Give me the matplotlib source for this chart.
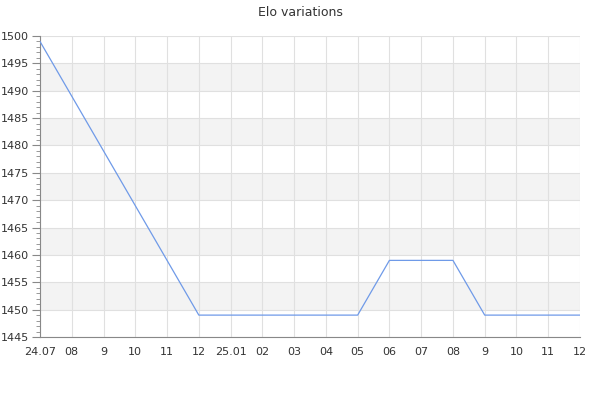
import matplotlib
matplotlib.use('Agg')
import matplotlib.pyplot as plt
from matplotlib.ticker import MultipleLocator

labels = ['24.07', '08', '9', '10', '11', '12', '25.01', '02', '03', '04',
          '05', '06', '07', '08', '9', '10', '11', '12']
elo = [1499, 1489, 1479, 1469, 1459, 1449, 1449, 1449, 1449, 1449,
       1449, 1459, 1459, 1459, 1449, 1449, 1449, 1449]

x = list(range(len(labels)))

fig = plt.figure(figsize=(6, 4), dpi=100)
ax = fig.add_axes([40/600, 1 - 337/400, 540/600, 301/400])

ymin, ymax = 1445, 1500
# alternating bands
for lo in range(1450, ymax, 10):
    ax.axhspan(lo, lo + 5, color='#f3f3f3', zorder=0, lw=0)

ax.plot(x, elo, color='#6f9ae8', lw=0.9, zorder=3)

ax.set_xlim(0, len(labels) - 1)
ax.set_ylim(ymin, ymax)
ax.set_xticks(x)
ax.set_xticklabels(labels)
ax.yaxis.set_major_locator(MultipleLocator(5))
ax.yaxis.set_minor_locator(MultipleLocator(1))
ax.grid(True, which='major', color='#e0e0e0', lw=0.8, zorder=1)
ax.set_axisbelow(True)

for s in ['top', 'right']:
    ax.spines[s].set_visible(False)
for s in ['left', 'bottom']:
    ax.spines[s].set_color('#888888')

ax.tick_params(axis='x', length=0, pad=7, labelsize=8, labelcolor='#333333')
ax.tick_params(axis='y', which='major', length=6, color='#888888', labelsize=8, labelcolor='#333333', pad=2)
ax.tick_params(axis='y', which='minor', length=3, color='#888888')

fig.suptitle('Elo variations', y=0.985, fontsize=9, color='#333333')

fig.savefig('out.png', dpi=100)
